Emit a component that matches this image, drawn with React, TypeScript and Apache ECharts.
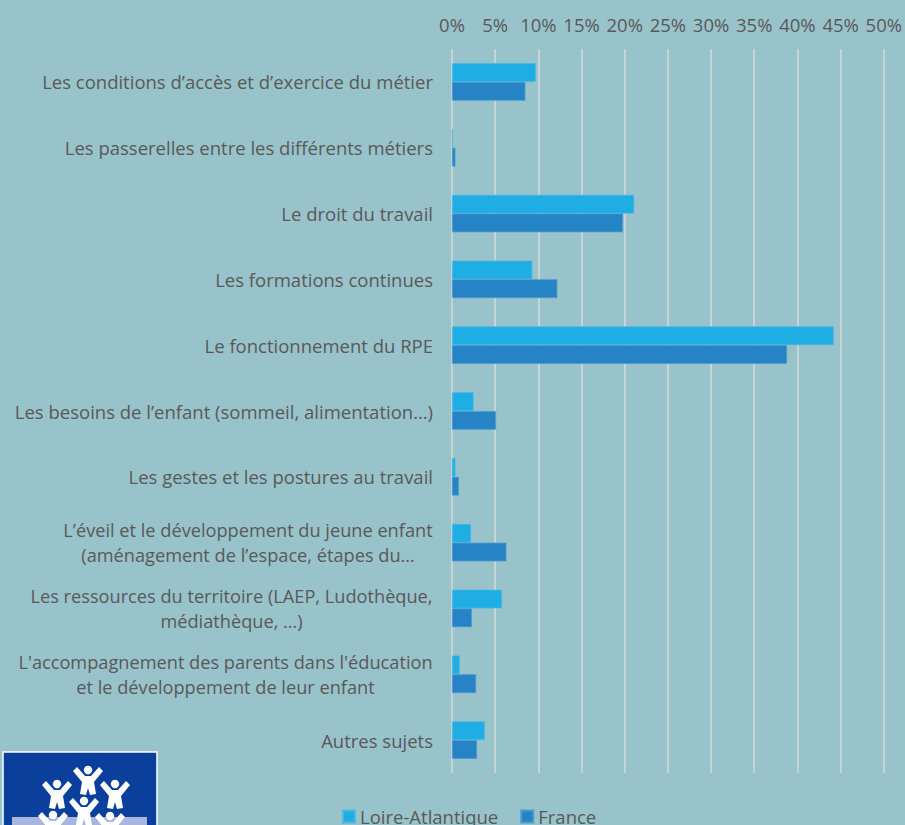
import React, { useEffect, useRef } from "react";
import * as echarts from "echarts";

const categories = [
  "Les conditions d’accès et d’exercice du métier",
  "Les passerelles entre les différents métiers",
  "Le droit du travail",
  "Les formations continues",
  "Le fonctionnement du RPE",
  "Les besoins de l’enfant (sommeil, alimentation…)",
  "Les gestes et les postures au travail",
  "L’éveil et le développement du jeune enfant\n(aménagement de l’espace, étapes du…",
  "Les ressources du territoire (LAEP, Ludothèque,\nmédiathèque, …)",
  "L'accompagnement des parents dans l'éducation\net le développement de leur enfant",
  "Autres sujets",
];
const loireAtlantique = [9.7, 0.1, 21.1, 9.3, 44.2, 2.5, 0.4, 2.2, 5.8, 0.9, 3.8];
const france = [8.5, 0.4, 19.8, 12.2, 38.8, 5.1, 0.8, 6.3, 2.3, 2.8, 2.9];
const seriesNames = ["Loire-Atlantique", "France"];
const axisMax = 50;
const axisStep = 5;

const FONT_NAME = "Open Sans";
const FONT = "'Open Sans', sans-serif";
const FS = 18.5;
const FS_MULTI = 18.2;
const TEXT = "#595959";

function measure(t: string, fs: number) {
  const c = document.createElement("canvas").getContext("2d");
  if (!c) return t.length * 9;
  c.font = `${fs}px '${FONT_NAME}'`;
  return Math.ceil(c.measureText(t).width);
}

function person(cx: number, cy: number, s: number) {
  const body = [
    [-15, -9], [-11, -13], [-3, -4], [3, -4], [11, -13], [15, -9],
    [6, 2], [8, 14], [2, 15], [0, 8], [-2, 15], [-8, 14], [-6, 2],
  ].map(([x, y]) => [cx + x * s, cy + y * s]);
  return [
    { type: "polygon", shape: { points: body }, style: { fill: "#ffffff" }, z: 12 },
    { type: "circle", shape: { cx, cy: cy - 10 * s, r: 4.2 * s }, style: { fill: "#ffffff" }, z: 12 },
  ];
}

export default function App() {
  const ref = useRef<HTMLDivElement>(null);
  useEffect(() => {
    document.body.style.margin = "0";
    if (!ref.current) return;
    const chart = echarts.init(ref.current, null, { renderer: "svg" });
    const rich: any = {};
    categories.forEach((c, i) => {
      const lines = c.split("\n");
      if (lines.length > 1) {
        rich["c" + i] = {
          width: Math.max(...lines.map((l) => measure(l, FS_MULTI))),
          align: "center",
          color: TEXT,
          fontSize: FS_MULTI,
          fontFamily: FONT,
          lineHeight: 24.5,
        };
      }
    });
    chart.setOption({
      animation: false,
      backgroundColor: "#98c3ca",
      textStyle: { fontFamily: FONT },
      grid: { left: 452, right: 19, top: 49, bottom: 52, containLabel: false },
      legend: {
        data: seriesNames,
        left: 337,
        top: 802,
        icon: "rect",
        itemWidth: 12,
        itemHeight: 12,
        itemGap: 22,
        textStyle: { color: TEXT, fontSize: FS, fontFamily: FONT },
      },
      xAxis: {
        type: "value",
        position: "top",
        min: 0,
        max: axisMax,
        interval: axisStep,
        axisLine: { show: false },
        axisTick: { show: false },
        axisLabel: { color: TEXT, fontSize: FS, fontFamily: FONT, margin: 15, formatter: "{value}%" },
        splitLine: { lineStyle: { color: "#d9d9d9", width: 1.5 } },
      },
      yAxis: {
        type: "category",
        data: categories,
        inverse: true,
        axisLine: { show: false },
        axisTick: { show: false },
        axisLabel: {
          color: TEXT,
          fontSize: FS,
          fontFamily: FONT,
          margin: 19,
          lineHeight: 24.5,
          interval: 0,
          formatter: (v: string, i: number) => {
            if (rich["c" + i]) {
              return v.split("\n").map((l) => `{c${i}|${l}}`).join("\n");
            }
            return v;
          },
          rich,
        },
      },
      series: [
        {
          name: seriesNames[0],
          type: "bar",
          data: loireAtlantique,
          barGap: "0%",
          barCategoryGap: "43%",
          itemStyle: { color: "#1eaee4", borderColor: "#4bb9e3", borderWidth: 0.8 },
        },
        {
          name: seriesNames[1],
          type: "bar",
          data: france,
          barGap: "0%",
          barCategoryGap: "43%",
          itemStyle: { color: "#2683c6", borderColor: "#4d9ccf", borderWidth: 0.8 },
        },
      ],
      graphic: [
        {
          type: "rect",
          shape: { x: 3, y: 752, width: 154, height: 90 },
          style: { fill: "#0b3f9c", stroke: "#ffffff", lineWidth: 1.5 },
          z: 10,
        },
        {
          type: "rect",
          shape: { x: 12, y: 817, width: 135, height: 20 },
          style: { fill: "#a8b6de" },
          z: 11,
        },
        ...person(88, 780, 1.0),
        ...person(57, 794, 1.0),
        ...person(115, 794, 1.0),
        ...person(84, 811, 1.0),
        ...person(53, 825, 1.0),
        ...person(110, 826, 1.0),
      ],
    });
    return () => chart.dispose();
  }, []);
  return <div ref={ref} style={{ width: 905, height: 825 }} />;
}
